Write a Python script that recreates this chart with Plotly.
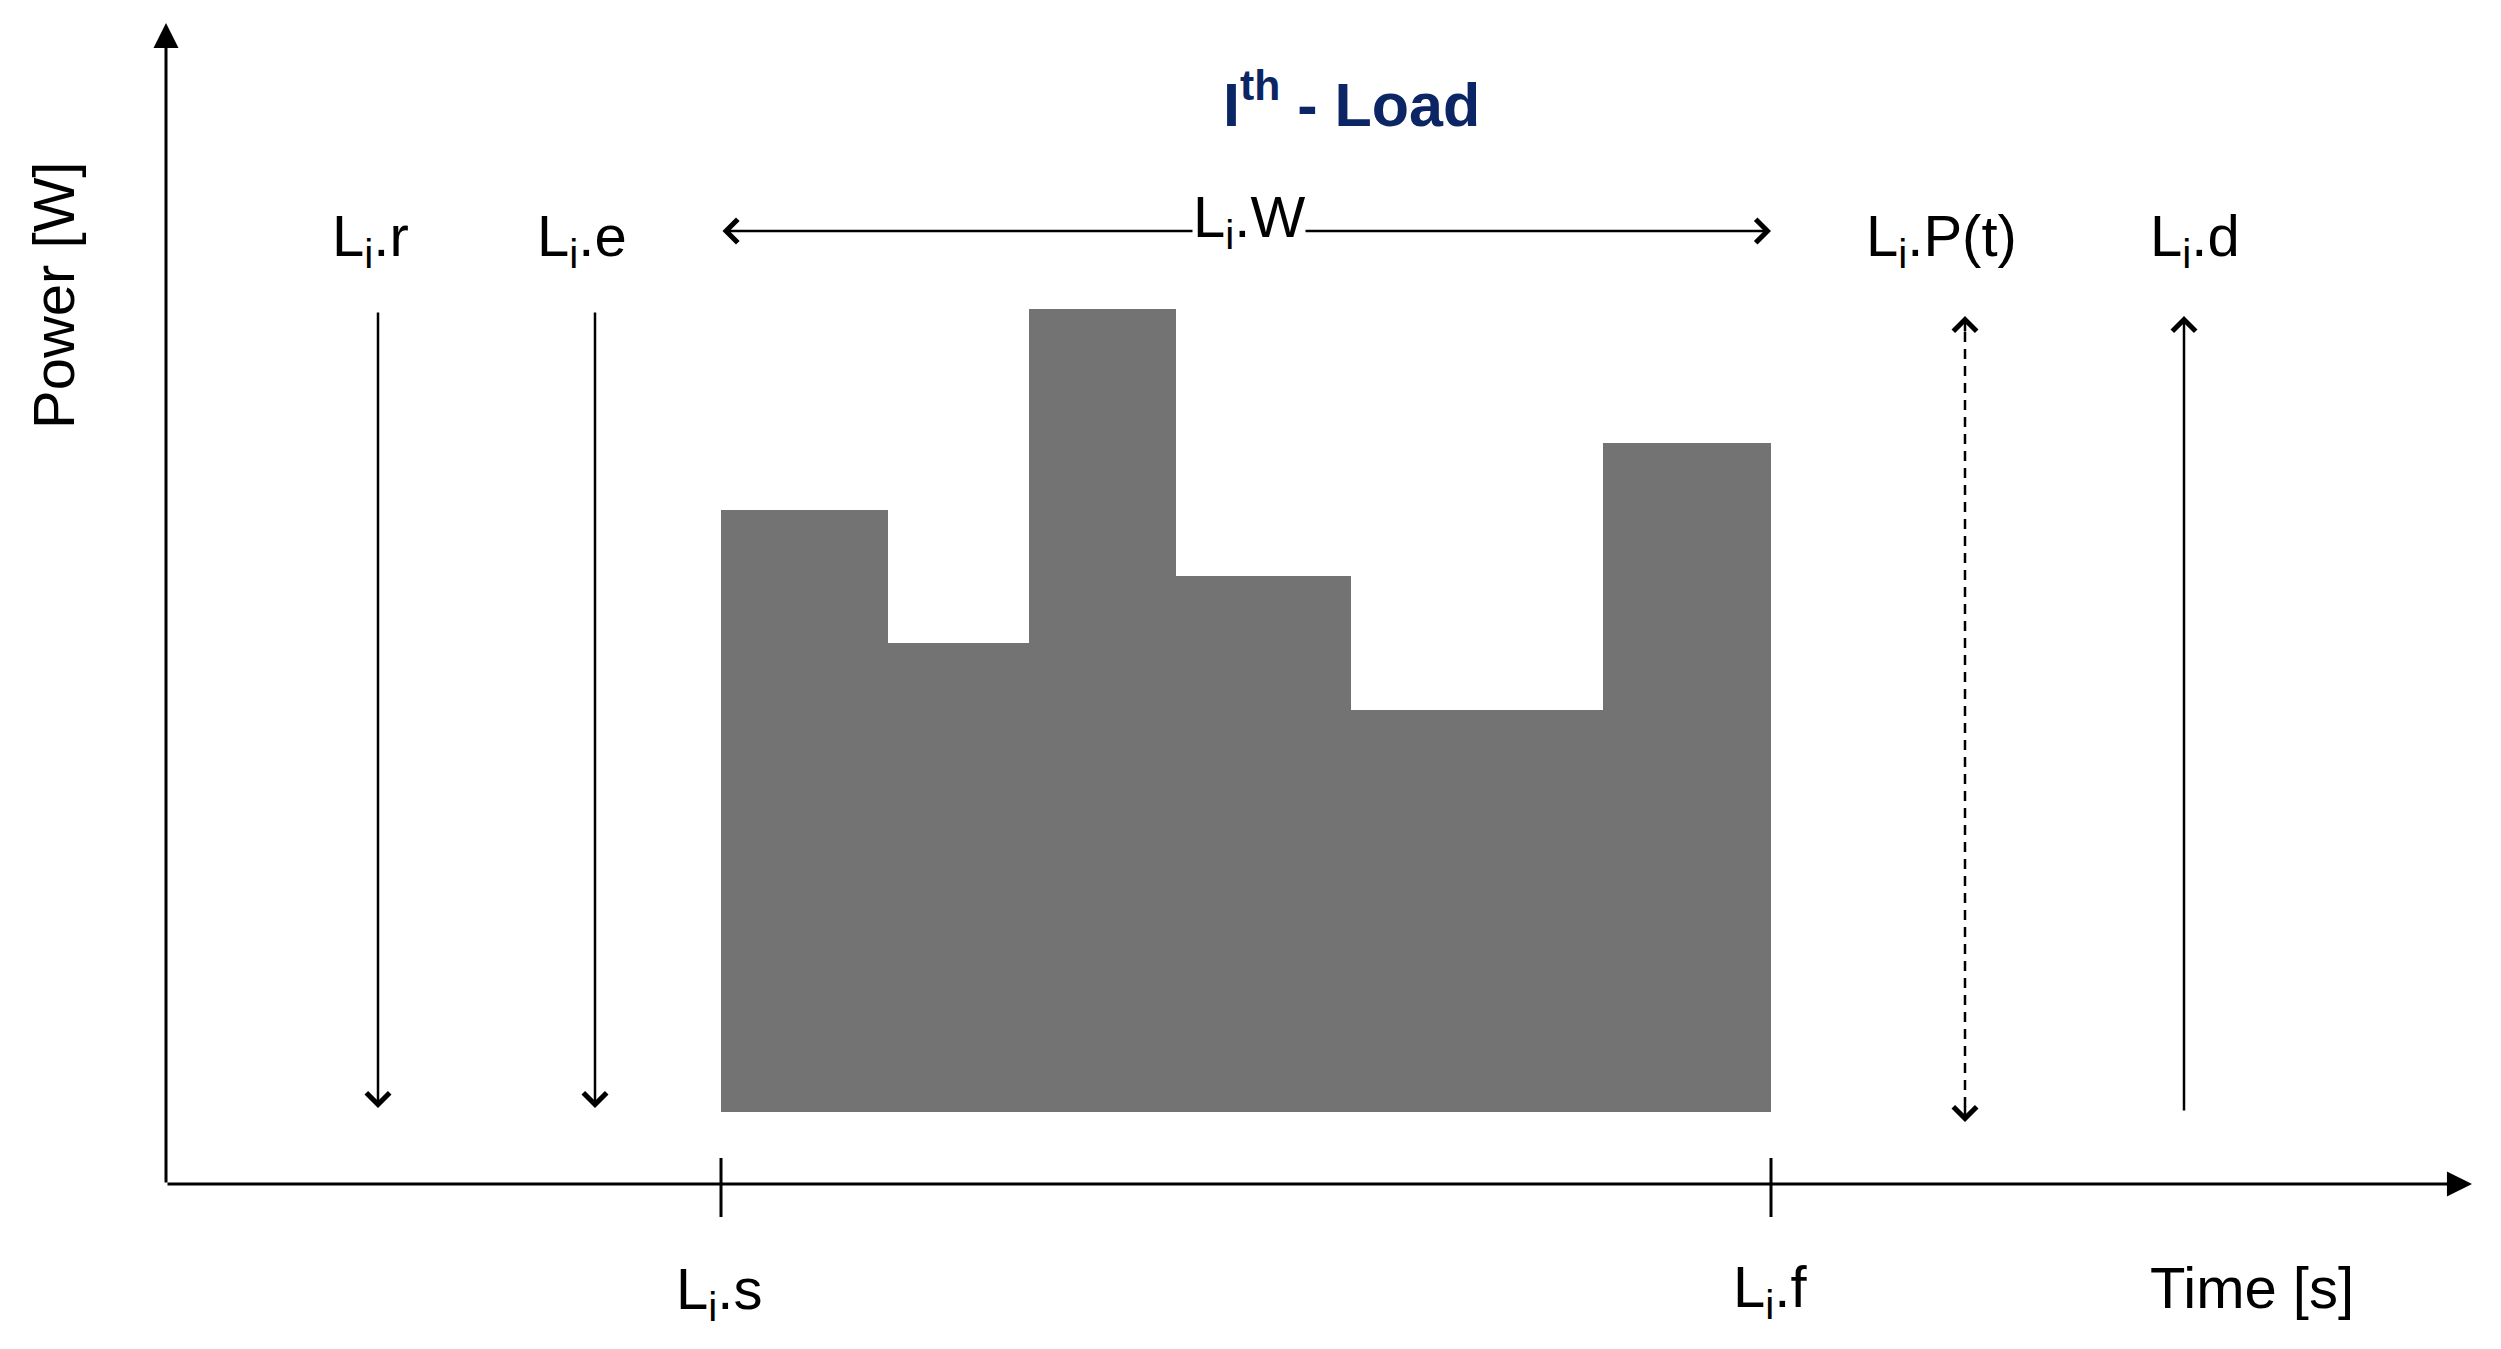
import plotly.graph_objects as go

# ---- data (time units on x, power units on y) ----
step_edges = [11.10, 14.44, 17.26, 20.20, 23.70, 28.74, 32.10]   # L_i.s ... L_i.f
step_power = [13.48, 10.82, 17.50, 12.16, 9.48, 14.82]           # power levels of the profile
power_base = 1.44

t_release = 4.24     # L_i.r
t_earliest = 8.58    # L_i.e
t_start = 11.10      # L_i.s
t_finish = 32.10     # L_i.f
t_power = 35.98      # L_i.P(t)
t_deadline = 40.36   # L_i.d

arrow_top = 17.46
arrow_bottom = 1.52
right_arrow_top = 17.36
power_arrow_bottom = 1.24
window_level = 19.06

x_axis_end = 46.12
y_axis_end = 23.22

labels_top = ["L<sub>i</sub>.r", "L<sub>i</sub>.e", "L<sub>i</sub>.P(t)", "L<sub>i</sub>.d"]
labels_top_x = [4.08, 8.32, 35.50, 40.58]
labels_top_y = 18.88
label_w = "L<sub>i</sub>.W"
label_w_x = 21.66
label_w_y = 19.26
labels_bottom = ["L<sub>i</sub>.s", "L<sub>i</sub>.f", "Time [s]"]
labels_bottom_x = [11.06, 32.08, 41.72]
labels_bottom_y = [-2.18, -2.14, -2.06]
title_text = "<b>I<sup>th</sup> - Load</b>"

FONT = "Liberation Sans, Arial, sans-serif"
FS = 58

# page offset of the plotting div (browser body margin)
OFF = 8
UNIT = 50.0
ORIGIN_X = 166 - OFF
ORIGIN_Y = 1184 - OFF

fig = go.Figure()

centers = [(a + b) / 2 for a, b in zip(step_edges[:-1], step_edges[1:])]
widths = [b - a for a, b in zip(step_edges[:-1], step_edges[1:])]
fig.add_trace(go.Bar(
    x=centers, y=[p - power_base for p in step_power], base=power_base, width=widths,
    marker=dict(color="#737373", line=dict(width=0)), hoverinfo="skip",
))

# dashed stem for P(t)
fig.add_shape(type="line", xref="x", yref="y", x0=t_power, x1=t_power,
              y0=power_arrow_bottom + 0.3, y1=right_arrow_top - 0.3,
              line=dict(color="black", width=2.5, dash="10px,7px"))

# ticks at start / finish
for t in [t_start, t_finish]:
    fig.add_shape(type="line", xref="x", yref="y", x0=t, x1=t, y0=-0.66, y1=0.52,
                  line=dict(color="black", width=3))

def arrow(x0, y0, x1, y1, head=4, size=1.8, width=2.5, side="end"):
    fig.add_annotation(x=x1, y=y1, ax=x0, ay=y0, xref="x", yref="y", axref="x", ayref="y",
                       text="", showarrow=True, arrowhead=head, arrowsize=size,
                       arrowwidth=width, arrowcolor="black", arrowside=side,
                       startarrowhead=head, startarrowsize=size, font=dict(size=1))

# axes
arrow(0, 0, 0, y_axis_end, head=2, size=1.67, width=3)
arrow(0, 0, x_axis_end, 0, head=2, size=1.67, width=3)

# event arrows
arrow(t_release, arrow_top, t_release, arrow_bottom)
arrow(t_earliest, arrow_top, t_earliest, arrow_bottom)
arrow(t_deadline, power_base, t_deadline, right_arrow_top)
arrow(t_start, window_level, t_finish, window_level, side="end+start")

# P(t) heads (short solid stems, the rest is dashed)
arrow(t_power, right_arrow_top - 0.34, t_power, right_arrow_top)
arrow(t_power, power_arrow_bottom + 0.34, t_power, power_arrow_bottom)

font = dict(family=FONT, size=FS, color="black")
for txt, x in zip(labels_top, labels_top_x):
    fig.add_annotation(x=x, y=labels_top_y, text=txt, showarrow=False, font=font)
fig.add_annotation(x=label_w_x, y=label_w_y, text=label_w, showarrow=False, font=font,
                   bgcolor="white", borderpad=0)
for txt, x, y in zip(labels_bottom, labels_bottom_x, labels_bottom_y):
    fig.add_annotation(x=x, y=y, text=txt, showarrow=False, font=font)
fig.add_annotation(x=-2.26, y=17.78, text="Power [W]", textangle=-90, showarrow=False, font=font)
fig.add_annotation(x=23.7, y=21.68, text=title_text, showarrow=False,
                   font=dict(family=FONT, size=61, color="#0b2565"))

fig.update_layout(
    width=2501, height=1349, margin=dict(l=0, r=0, t=0, b=0),
    paper_bgcolor="white", plot_bgcolor="white", showlegend=False,
    xaxis=dict(visible=False, range=[-ORIGIN_X / UNIT, (2501 - ORIGIN_X) / UNIT], fixedrange=True),
    yaxis=dict(visible=False, range=[-(1349 - ORIGIN_Y) / UNIT, ORIGIN_Y / UNIT], fixedrange=True),
    bargap=0,
)

fig.write_html("out.html")
